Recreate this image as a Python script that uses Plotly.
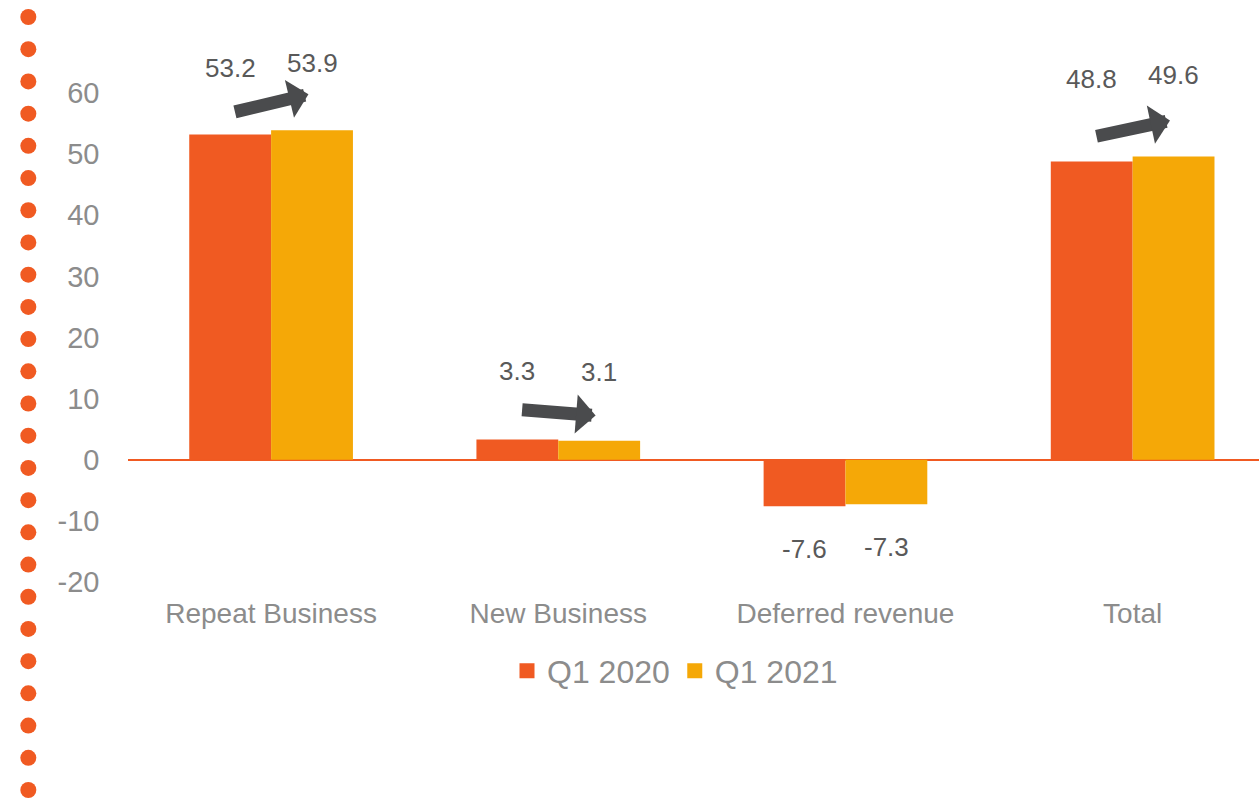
import plotly.graph_objects as go

categories = ["Repeat Business", "New Business", "Deferred revenue", "Total"]
q1_2020 = [53.2, 3.3, -7.6, 48.8]
q1_2021 = [53.9, 3.1, -7.3, 49.6]
series_names = ["Q1 2020", "Q1 2021"]
y_ticks = [-20, -10, 0, 10, 20, 30, 40, 50, 60]
y_tick_text = ["-20", "-10", "0", "10", "20", "30", "40", "50", "60"]
label_shift = [67, 69, -43, 82]          # px offset of value labels from bar ends
arrow_cats = [0, 1, 3]
arrow_rise = [18, -6, 16]                 # px rise of the trend arrows
arrow_lift = [36, 24, 36]

ORANGE = "#F05A22"
YELLOW = "#F5A807"
W, H = 1259, 800
FONT = "Liberation Sans, Arial, sans-serif"

fig = go.Figure()
for name, vals, col in [(series_names[0], q1_2020, ORANGE), (series_names[1], q1_2021, YELLOW)]:
    fig.add_trace(go.Bar(
        x=list(range(len(categories))), y=vals, name=name,
        marker=dict(color=col, line=dict(width=0)),
        xaxis="x", yaxis="y", showlegend=False,
    ))

# legend entries with larger square swatches
for name, col in [(series_names[0], ORANGE), (series_names[1], YELLOW)]:
    fig.add_trace(go.Scatter(
        x=[None], y=[None], mode="markers", name=name,
        marker=dict(symbol="square", size=15, color=col),
        xaxis="x", yaxis="y",
    ))

# decorative dotted column on the left
dot_index = list(range(25))
fig.add_trace(go.Scatter(
    x=[0.5] * len(dot_index), y=dot_index, mode="markers",
    marker=dict(size=16, color=ORANGE), showlegend=False, hoverinfo="skip",
    xaxis="x2", yaxis="y2", cliponaxis=False,
))

bargap = 0.43
bar_w = (1 - bargap) / 2
offsets = [-bar_w / 2, bar_w / 2]

annotations = []
for i, cat in enumerate(categories):
    for k, vals in enumerate([q1_2020, q1_2021]):
        v = vals[i]
        annotations.append(dict(
            x=i + offsets[k], y=v, xref="x", yref="y", text=f"{v:.1f}",
            showarrow=False, yshift=label_shift[i],
            font=dict(family=FONT, size=26, color="#595959"),
        ))

for j, c in enumerate(arrow_cats):
    top = max(q1_2020[c], q1_2021[c])
    annotations.append(dict(
        x=c + 0.13, y=top, xref="x", yref="y", text="",
        showarrow=True, arrowhead=1, arrowsize=0.5, arrowwidth=13,
        arrowcolor="#4A4B4D", ax=-75, ay=arrow_rise[j], axref="pixel", ayref="pixel",
        yshift=arrow_lift[j], standoff=0,
    ))

plot_left = 127.5 / W
fig.update_layout(
    width=W, height=H,
    margin=dict(l=0, r=0, t=0, b=0, pad=0, autoexpand=False),
    paper_bgcolor="white", plot_bgcolor="white",
    barmode="group", bargap=bargap, bargroupgap=0,
    font=dict(family=FONT, color="#8C8C8C"),
    xaxis=dict(
        domain=[plot_left, 1], range=[-0.5, 3.44],
        tickmode="array", tickvals=list(range(len(categories))), ticktext=categories,
        tickfont=dict(size=28, color="#8C8C8C"), showgrid=False, zeroline=False,
        showline=False, ticks="", ticklabelstandoff=12, automargin=False,
    ),
    yaxis=dict(
        domain=[(H - 582) / H, (H - 93) / H], range=[-20, 60],
        tickmode="array", tickvals=y_ticks, ticktext=y_tick_text,
        tickfont=dict(size=29, color="#8C8C8C"),
        showgrid=False, zeroline=True, zerolinecolor=ORANGE, zerolinewidth=2,
        showline=False, ticks="", ticklabelstandoff=27, automargin=False,
    ),
    xaxis2=dict(domain=[0, 0.045], range=[0, 1], visible=False, fixedrange=True),
    yaxis2=dict(domain=[0, 1], range=[24 + 10 / 32.2, -17 / 32.2], visible=False,
                anchor="x2", fixedrange=True),
    legend=dict(
        orientation="h", x=675 / W, xanchor="center", y=1 - 671 / H, yanchor="middle",
        font=dict(size=32, color="#8C8C8C"), itemsizing="trace", traceorder="normal",
        bgcolor="rgba(0,0,0,0)",
    ),
    annotations=annotations,
    showlegend=True,
)

fig.write_html("out.html")
